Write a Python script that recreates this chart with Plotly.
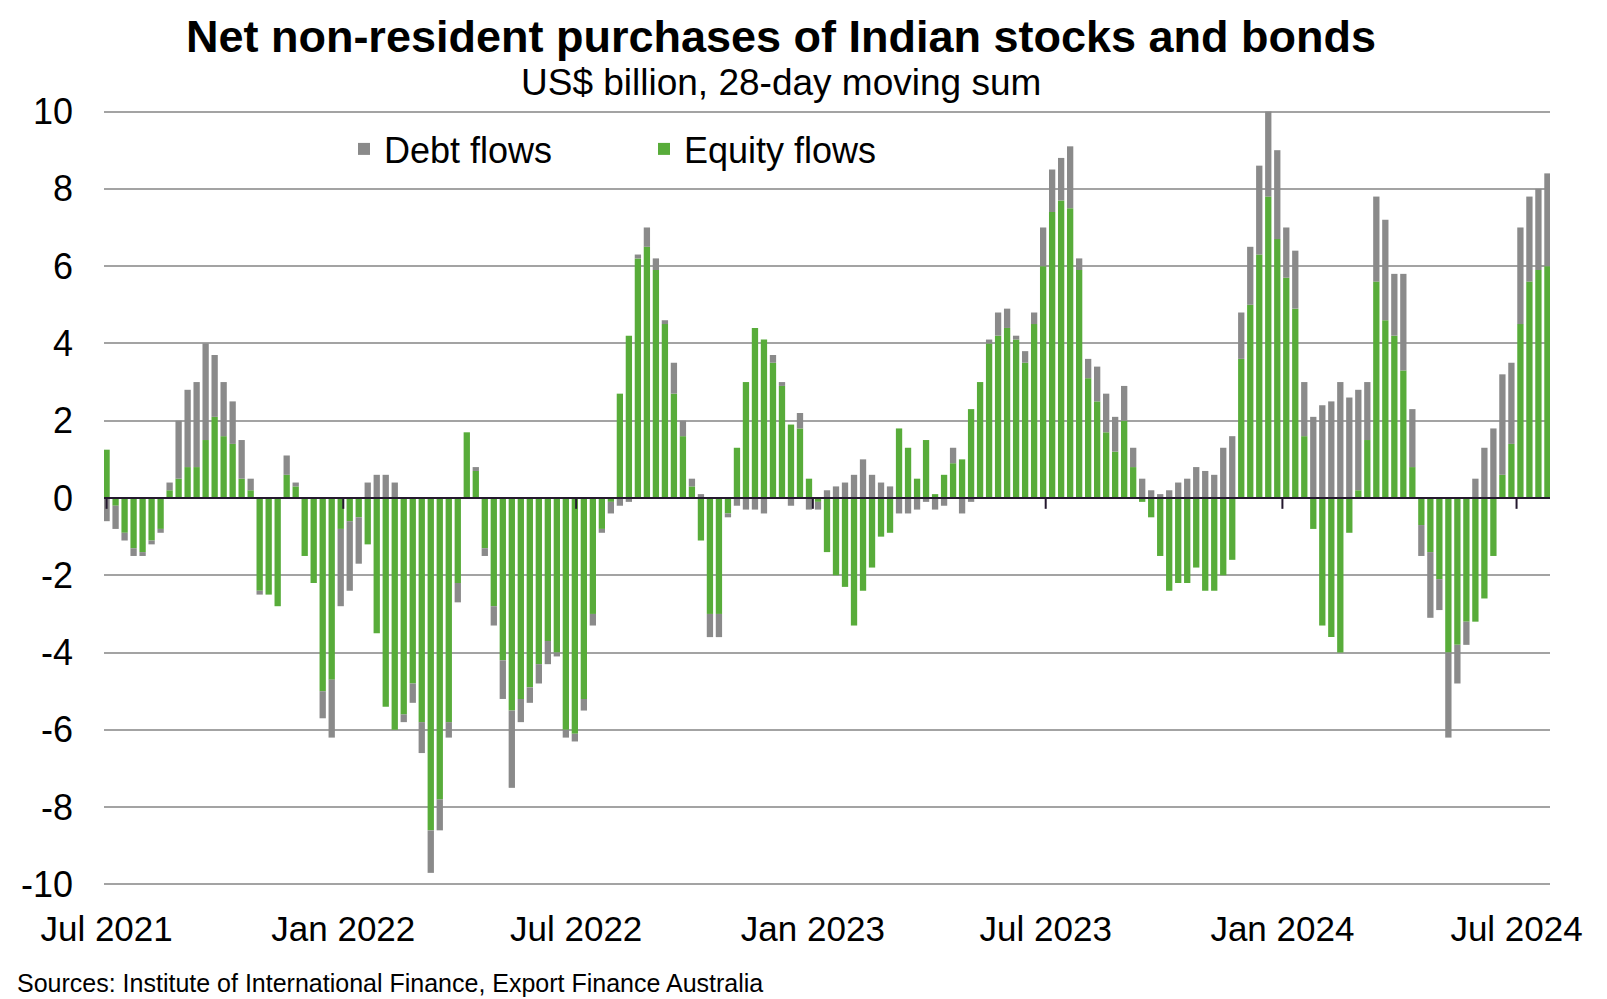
import pandas as pd
import plotly.graph_objects as go

# Weekly readings (US$ billion, 28-day moving sum), starting 1 Jul 2021
start_date = "2021-07-01"
equity_flows = [
    1.25, -0.2, -0.9, -1.3, -1.4, -1.1, -0.8, 0.2, 0.5, 0.8,
    0.8, 1.5, 2.1, 1.6, 1.4, 0.5, 0.2, -2.4, -2.5, -2.8,
    0.6, 0.3, -1.5, -2.2, -5.0, -4.7, -0.8, -0.6, -0.5, -1.2,
    -3.5, -5.4, -6.0, -5.6, -4.8, -5.8, -8.6, -7.8, -5.8, -2.2,
    1.7, 0.7, -1.3, -2.8, -4.2, -5.5, -5.2, -4.9, -4.3, -3.7,
    -4.0, -6.0, -6.1, -5.2, -3.0, -0.8, -0.1, 2.7, 4.2, 6.2,
    6.5, 5.9, 4.5, 2.7, 1.6, 0.3, -1.1, -3.0, -3.0, -0.4,
    1.3, 3.0, 4.4, 4.1, 3.5, 2.9, 1.9, 1.8, 0.5, -0.1,
    -1.4, -2.0, -2.3, -3.3, -2.4, -1.8, -1.0, -0.9, 1.8, 1.3,
    0.5, 1.5, 0.1, 0.6, 0.9, 1.0, 2.3, 3.0, 4.0, 4.2,
    4.4, 4.1, 3.5, 4.5, 6.0, 7.4, 7.7, 7.5, 5.9, 3.1,
    2.5, 1.7, 1.2, 2.0, 0.8, -0.1, -0.5, -1.5, -2.4, -2.2,
    -2.2, -1.8, -2.4, -2.4, -2.0, -1.6, 3.6, 5.0, 6.3, 7.8,
    6.7, 5.7, 4.9, 1.6, -0.8, -3.3, -3.6, -4.0, -0.9, 0.2,
    1.5, 5.6, 4.6, 4.2, 3.3, 0.8, -0.7, -1.4, -2.1, -4.0,
    -3.8, -3.2, -3.2, -2.6, -1.5, 0.6, 1.4, 4.5, 5.6, 5.9,
    6.0,
]
debt_flows = [
    -0.6, -0.6, -0.2, -0.2, -0.1, -0.1, -0.1, 0.2, 1.5, 2.0,
    2.2, 2.5, 1.6, 1.4, 1.1, 1.0, 0.3, -0.1, 0.0, 0.0,
    0.5, 0.1, 0.0, 0.0, -0.7, -1.5, -2.0, -1.8, -1.2, 0.4,
    0.6, 0.6, 0.4, -0.2, -0.5, -0.8, -1.1, -0.8, -0.4, -0.5,
    0.0, 0.1, -0.2, -0.5, -1.0, -2.0, -0.6, -0.4, -0.5, -0.6,
    -0.1, -0.2, -0.2, -0.3, -0.3, -0.1, -0.3, -0.2, -0.1, 0.1,
    0.5, 0.3, 0.1, 0.8, 0.4, 0.2, 0.1, -0.6, -0.6, -0.1,
    -0.2, -0.3, -0.3, -0.4, 0.2, 0.1, -0.2, 0.4, -0.3, -0.2,
    0.2, 0.3, 0.4, 0.6, 1.0, 0.6, 0.4, 0.3, -0.4, -0.4,
    -0.3, -0.1, -0.3, -0.2, 0.4, -0.4, -0.1, 0.0, 0.1, 0.6,
    0.5, 0.1, 0.3, 0.3, 1.0, 1.1, 1.1, 1.6, 0.3, 0.5,
    0.9, 1.0, 0.9, 0.9, 0.5, 0.5, 0.2, 0.1, 0.2, 0.4,
    0.5, 0.8, 0.7, 0.6, 1.3, 1.6, 1.2, 1.5, 2.3, 2.2,
    2.3, 1.3, 1.5, 1.4, 2.1, 2.4, 2.5, 3.0, 2.6, 2.6,
    1.5, 2.2, 2.6, 1.6, 2.5, 1.5, -0.8, -1.7, -0.8, -2.2,
    -1.0, -0.6, 0.5, 1.3, 1.8, 2.6, 2.1, 2.5, 2.2, 2.1,
    2.4,
]
dates = pd.date_range(start_date, periods=len(equity_flows), freq="7D")

tick_dates = ["2021-07-01", "2022-01-01", "2022-07-01", "2023-01-01",
              "2023-07-01", "2024-01-01", "2024-07-01"]
tick_labels = ["Jul 2021", "Jan 2022", "Jul 2022", "Jan 2023",
               "Jul 2023", "Jan 2024", "Jul 2024"]
y_ticks = [-10, -8, -6, -4, -2, 0, 2, 4, 6, 8, 10]
y_tick_labels = [str(v) for v in y_ticks]

GREEN = "#58AC3A"
GRAY = "#8A8A8A"
FONT = "Liberation Sans, Arial, sans-serif"

# plot area in pixels
L, R, T, B = 104, 57, 110, 113
PW, PH = 1607 - L - R, 999 - T - B


def px_x(px):
    return (px - L) / PW


def px_y(py):
    return (999 - B - py) / PH


fig = go.Figure()
fig.add_trace(go.Bar(x=dates, y=equity_flows, name="Equity flows",
                     marker=dict(color=GREEN, line=dict(width=0)),
                     legend="legend2", showlegend=True))
fig.add_trace(go.Bar(x=dates, y=debt_flows, name="Debt flows",
                     marker=dict(color=GRAY, line=dict(width=0)),
                     legend="legend", showlegend=True))

shapes = [dict(type="line", xref="paper", yref="y", x0=0, x1=1, y0=0, y1=0,
               line=dict(color="#24182E", width=2), layer="above")]
for d in tick_dates:
    shapes.append(dict(type="line", xref="x", yref="y", x0=d, x1=d, y0=0, y1=-0.28,
                       line=dict(color="#24182E", width=2), layer="above"))

fig.update_layout(
    width=1607, height=999,
    margin=dict(l=L, r=R, t=T, b=B, autoexpand=False),
    paper_bgcolor="white", plot_bgcolor="white",
    barmode="relative", bargap=0.3,
    showlegend=True,
    font=dict(family=FONT, color="black", size=36),
    title=dict(text="<b>Net non-resident purchases of Indian stocks and bonds</b>",
               xref="container", yref="container", x=0.486, y=1 - 36 / 999,
               xanchor="center", yanchor="middle",
               font=dict(family=FONT, size=45, color="black")),
    xaxis=dict(type="date", range=["2021-06-29", "2024-07-27"],
               tickvals=tick_dates, ticktext=tick_labels,
               showgrid=False, zeroline=False, showline=False, ticks="",
               ticklabelstandoff=19,
               tickfont=dict(family=FONT, size=35, color="black")),
    yaxis=dict(range=[-10.04, 10.04], tickvals=y_ticks, ticktext=y_tick_labels,
               showgrid=True, gridcolor="#A3A3A3", gridwidth=2,
               zeroline=False, showline=False, ticks="",
               ticklabelstandoff=30,
               tickfont=dict(family=FONT, size=36, color="black")),
    legend=dict(orientation="h", xref="paper", yref="paper",
                x=px_x(344), y=px_y(149), xanchor="left", yanchor="middle",
                bgcolor="rgba(0,0,0,0)", font=dict(family=FONT, size=36, color="black")),
    legend2=dict(orientation="h", xref="paper", yref="paper",
                 x=px_x(644), y=px_y(149), xanchor="left", yanchor="middle",
                 bgcolor="rgba(0,0,0,0)", font=dict(family=FONT, size=36, color="black")),
    shapes=shapes,
    annotations=[
        dict(text="US$ billion, 28-day moving sum", xref="paper", yref="paper",
             x=px_x(781), y=px_y(83), xanchor="center", yanchor="middle",
             showarrow=False, font=dict(family=FONT, size=37, color="black")),
        dict(text="Sources: Institute of International Finance, Export Finance Australia",
             xref="paper", yref="paper", x=px_x(15), y=px_y(983),
             xanchor="left", yanchor="middle", showarrow=False,
             font=dict(family=FONT, size=25, color="black")),
    ],
)

fig.write_html("out.html", config={"displayModeBar": False},
               post_script="document.body.style.margin='0';")
